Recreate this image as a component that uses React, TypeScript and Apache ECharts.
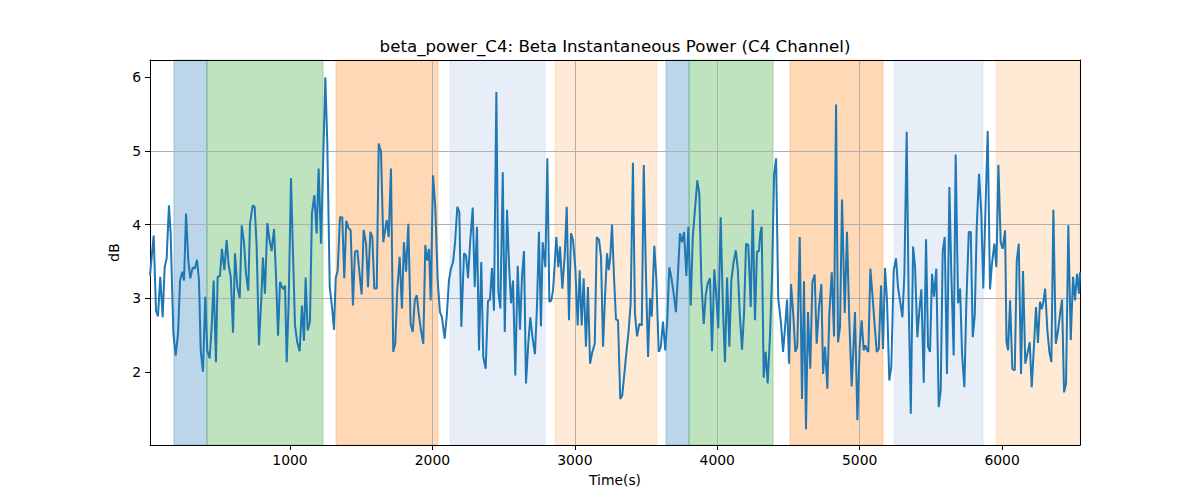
import React, { useEffect, useRef } from "react";
import * as echarts from "echarts";

const TITLE = "beta_power_C4: Beta Instantaneous Power (C4 Channel)";
const X_NAME = "Time(s)";
const Y_NAME = "dB";

const xTicks = [1000, 2000, 3000, 4000, 5000, 6000];
const yTicks = [2, 3, 4, 5, 6];
const xMin = 17;
const xMax = 6547;
const yMin = 1.005;
const yMax = 6.235;

const times = [
  17, 43, 59, 73, 89, 106, 120, 134, 150, 162, 181, 197, 214, 228, 244, 256, 270, 286, 300, 317,
  331, 347, 361, 373, 389, 405, 419, 436, 450, 464, 480, 492, 508, 522, 539, 555, 569, 584, 600, 614,
  630, 647, 661, 677, 691, 707, 719, 738, 752, 766, 782, 798, 810, 824, 841, 855, 871, 888, 902, 916,
  930, 944, 956, 965, 977, 991, 1007, 1021, 1035, 1051, 1068, 1084, 1098, 1110, 1124, 1140, 1154, 1171, 1187, 1201,
  1218, 1248, 1262, 1279, 1295, 1309, 1321, 1335, 1351, 1367, 1381, 1395, 1412, 1426, 1442, 1456, 1473, 1487, 1503, 1517,
  1534, 1548, 1564, 1578, 1592, 1609, 1623, 1639, 1655, 1679, 1693, 1709, 1725, 1739, 1753, 1770, 1786, 1800, 1815, 1831,
  1847, 1862, 1876, 1890, 1904, 1920, 1936, 1950, 1964, 1976, 1988, 2004, 2020, 2037, 2053, 2067, 2086, 2102, 2116, 2130,
  2145, 2159, 2175, 2189, 2203, 2222, 2236, 2250, 2266, 2283, 2297, 2313, 2327, 2343, 2357, 2374, 2390, 2404, 2418, 2432,
  2449, 2463, 2477, 2494, 2508, 2524, 2538, 2552, 2566, 2582, 2599, 2615, 2629, 2643, 2657, 2673, 2687, 2704, 2720, 2734,
  2748, 2762, 2774, 2793, 2807, 2821, 2835, 2847, 2859, 2870, 2884, 2896, 2912, 2929, 2943, 2959, 2973, 2987, 3003, 3020,
  3034, 3048, 3062, 3078, 3092, 3107, 3123, 3140, 3154, 3170, 3184, 3198, 3212, 3226, 3238, 3249, 3261, 3275, 3289, 3303,
  3319, 3333, 3350, 3364, 3378, 3392, 3408, 3422, 3437, 3453, 3470, 3484, 3498, 3514, 3528, 3540, 3558, 3572, 3589, 3603,
  3619, 3635, 3649, 3663, 3677, 3694, 3710, 3724, 3738, 3753, 3767, 3783, 3797, 3814, 3828, 3860, 3874, 3888, 3905, 3919,
  3933, 3949, 3963, 3979, 3993, 4007, 4024, 4040, 4054, 4069, 4085, 4099, 4113, 4130, 4144, 4158, 4174, 4188, 4202, 4218,
  4235, 4249, 4265, 4279, 4293, 4302, 4312, 4326, 4340, 4354, 4371, 4385, 4399, 4413, 4428, 4448, 4462, 4478, 4490, 4504,
  4518, 4534, 4548, 4562, 4579, 4595, 4609, 4623, 4637, 4653, 4668, 4684, 4698, 4715, 4731, 4743, 4757, 4773, 4787, 4804,
  4820, 4834, 4848, 4862, 4876, 4895, 4911, 4927, 4944, 4967, 4984, 5000, 5014, 5028, 5040, 5052, 5061, 5075, 5089, 5106,
  5120, 5134, 5150, 5164, 5178, 5192, 5208, 5222, 5239, 5255, 5269, 5283, 5300, 5314, 5330, 5344, 5359, 5375, 5389, 5405,
  5419, 5433, 5450, 5466, 5480, 5494, 5508, 5522, 5538, 5555, 5569, 5583, 5597, 5613, 5630, 5644, 5660, 5674, 5691, 5705,
  5719, 5735, 5749, 5766, 5780, 5794, 5808, 5822, 5838, 5854, 5868, 5885, 5899, 5915, 5929, 5946, 5960, 5974, 5990, 6004,
  6021, 6031, 6042, 6056, 6072, 6089, 6103, 6117, 6133, 6147, 6163, 6177, 6194, 6208, 6224, 6238, 6252, 6266, 6278, 6290,
  6302, 6318, 6332, 6346, 6360, 6377, 6393, 6407, 6421, 6435, 6449, 6465, 6482, 6498, 6512, 6526, 6540, 6547,
];

const values = [
  3.31, 3.85, 2.83, 2.75, 3.29, 2.74, 3.42, 3.54, 4.26, 3.88, 2.52, 2.22, 2.52, 3.24, 3.36, 3.24, 4.15, 3.51, 3.27, 3.42,
  3.40, 3.52, 3.24, 2.29, 2.0, 3.02, 2.29, 2.18, 2.61, 3.24, 2.13, 3.29, 3.30, 3.67, 3.38, 3.79, 3.45, 3.29, 2.53, 3.61,
  3.15, 3.0, 3.99, 3.76, 3.33, 3.10, 4.01, 4.26, 4.24, 3.70, 2.36, 2.97, 3.55, 3.06, 4.02, 3.81, 3.64, 3.94, 3.29, 2.49,
  3.22, 3.15, 3.12, 3.17, 2.13, 2.97, 4.63, 3.61, 2.63, 2.40, 2.28, 2.90, 2.42, 3.28, 2.56, 2.68, 4.15, 4.40, 3.88, 4.76,
  3.74, 6.0, 5.10, 3.15, 2.88, 2.57, 3.27, 3.38, 4.10, 4.10, 3.27, 4.05, 3.95, 3.92, 2.90, 3.63, 3.65, 3.36, 3.05, 3.93,
  3.74, 3.15, 3.90, 3.83, 3.13, 3.13, 5.10, 4.99, 3.76, 4.06, 3.83, 4.76, 2.27, 2.38, 3.11, 3.56, 2.86, 3.76, 3.36, 4.01,
  2.65, 2.54, 2.97, 3.04, 2.79, 2.56, 2.38, 3.72, 3.51, 3.67, 2.97, 4.67, 4.24, 3.24, 2.81, 2.74, 2.45, 2.79, 3.24, 3.40,
  3.49, 3.76, 4.24, 4.17, 2.61, 3.61, 3.58, 3.27, 3.79, 4.23, 3.15, 3.97, 2.29, 3.49, 2.20, 2.04, 2.96, 2.98, 3.41, 2.83,
  5.80, 3.08, 2.86, 4.71, 2.54, 4.20, 3.46, 2.93, 3.24, 1.95, 3.44, 2.57, 3.29, 3.64, 1.84, 2.38, 2.74, 2.45, 2.24, 2.88,
  3.90, 2.62, 3.76, 3.42, 4.90, 2.95, 2.97, 3.11, 3.47, 3.83, 3.42, 3.70, 3.13, 3.58, 4.24, 2.70, 3.88, 3.79, 3.42, 2.63,
  3.38, 2.63, 3.27, 2.34, 3.15, 2.11, 2.27, 2.38, 3.83, 3.79, 3.56, 2.34, 3.02, 3.61, 3.38, 3.56, 4.00, 3.29, 2.71, 2.70,
  1.63, 1.68, 2.02, 2.30, 2.56, 2.93, 4.84, 2.79, 2.48, 2.65, 2.63, 4.81, 3.42, 2.20, 3.0, 2.75, 3.71, 3.27, 2.27, 2.33,
  2.68, 2.29, 2.70, 3.42, 3.29, 3.06, 2.81, 3.33, 3.88, 3.76, 3.90, 3.30, 3.97, 2.90, 3.83, 4.60, 4.42, 3.24, 2.65, 3.04,
  3.20, 3.27, 2.28, 3.39, 3.04, 2.59, 4.10, 2.86, 2.13, 3.28, 2.34, 3.24, 3.47, 3.65, 3.40, 2.79, 2.30, 2.79, 3.74, 3.72,
  2.88, 4.20, 2.70, 3.63, 3.64, 3.88, 3.97, 1.92, 2.27, 1.84, 2.52, 3.33, 4.67, 4.90, 3.0, 2.65, 2.27, 2.65, 2.98, 2.11,
  3.19, 2.77, 2.27, 2.34, 3.83, 1.63, 3.23, 1.22, 2.81, 2.04, 3.22, 3.32, 2.38, 2.89, 3.19, 1.97, 2.34, 1.77, 2.79, 3.35,
  2.48, 5.63, 2.40, 2.61, 4.34, 2.80, 3.90, 2.70, 1.80, 2.81, 1.34, 2.34, 2.70, 2.29, 2.36, 2.29, 2.27, 3.40, 3.06, 2.61,
  2.27, 2.31, 3.17, 2.31, 3.41, 2.97, 1.88, 2.06, 3.38, 3.54, 3.15, 2.97, 2.74, 3.33, 5.26, 2.97, 1.43, 3.70, 3.42, 2.47,
  2.83, 3.12, 1.85, 3.80, 2.34, 2.27, 3.33, 3.02, 3.40, 1.52, 1.75, 3.63, 3.83, 1.97, 4.51, 3.29, 2.22, 4.95, 2.93, 3.13,
  2.24, 1.79, 2.93, 3.90, 3.90, 2.47, 2.77, 3.97, 4.69, 4.15, 3.13, 4.33, 5.27, 3.12, 3.47, 3.74, 3.42, 4.81, 3.76, 3.67,
  3.92, 2.40, 2.29, 2.97, 2.04, 2.02, 3.51, 3.74, 1.97, 3.37, 2.11, 2.24, 2.40, 1.79, 2.36, 2.88, 2.39, 2.95, 2.85, 2.95,
  3.13, 2.56, 2.27, 2.13, 4.20, 2.38, 2.56, 2.79, 2.98, 1.72, 1.84, 3.99, 2.43, 3.29, 2.97, 3.33, 3.06, 3.35,
];

const bandStarts = [185, 417, 1323, 2124, 2861, 3640, 3802, 4511, 5242, 5958];
const bandEnds = [417, 1232, 2039, 2791, 3577, 3802, 4392, 5164, 5866, 6547];
const bandColors = [
  "rgba(31,119,180,0.3)",
  "rgba(44,160,44,0.3)",
  "rgba(255,127,14,0.3)",
  "rgba(174,199,232,0.3)",
  "rgba(255,187,120,0.3)",
  "rgba(31,119,180,0.3)",
  "rgba(44,160,44,0.3)",
  "rgba(255,127,14,0.3)",
  "rgba(174,199,232,0.3)",
  "rgba(255,187,120,0.3)",
];

const FONT = "DejaVu Sans";

export default function App() {
  const ref = useRef<HTMLDivElement>(null);

  useEffect(() => {
    if (!ref.current) return;
    const chart = echarts.init(ref.current, undefined, { renderer: "svg" });
    const data = times.map((t, i) => [t, values[i]]);
    const bands = bandStarts.map((s, i) => [
      {
        xAxis: s,
        itemStyle: { color: bandColors[i], borderColor: bandColors[i], borderWidth: 1 },
      },
      { xAxis: bandEnds[i] },
    ]);

    const option: any = {
      animation: false,
      backgroundColor: "#ffffff",
      textStyle: { fontFamily: FONT },
      grid: { left: 150, right: 120, top: 60, bottom: 55 },
      graphic: [
        {
          type: "text",
          x: 615,
          y: 46,
          z: 10,
          style: {
            text: TITLE,
            fontSize: 16.67,
            fontFamily: FONT,
            fill: "#000",
            textAlign: "center",
            textVerticalAlign: "middle",
          },
        },
      ],
      xAxis: [
        {
          type: "value",
          min: xMin,
          max: xMax,
          position: "bottom",
          z: 2,
          name: X_NAME,
          nameLocation: "middle",
          nameGap: 28,
          nameTextStyle: { fontSize: 13.9, color: "#000", fontFamily: FONT },
          axisLine: { show: true, onZero: false, lineStyle: { color: "#000", width: 1 } },
          axisTick: { show: true, inside: false, length: 5, customValues: xTicks, lineStyle: { color: "#000", width: 1 } },
          axisLabel: {
            customValues: xTicks,
            fontSize: 13.9,
            color: "#000",
            margin: 8,
            fontFamily: FONT,
            formatter: (v: number) => String(v),
          },
          splitLine: {
            show: true,
            showMinLine: false,
            showMaxLine: false,
            lineStyle: { color: "#b0b0b0", width: 1 },
          },
        },
        {
          type: "value",
          min: xMin,
          max: xMax,
          position: "top",
          z: 2,
          axisLine: { show: true, onZero: false, lineStyle: { color: "#000", width: 1 } },
          axisTick: { show: false },
          axisLabel: { show: false },
          splitLine: { show: false },
        },
      ],
      yAxis: [
        {
          type: "value",
          min: yMin,
          max: yMax,
          position: "left",
          z: 2,
          name: Y_NAME,
          nameLocation: "middle",
          nameRotate: 90,
          nameGap: 26,
          nameTextStyle: { fontSize: 13.9, color: "#000", fontFamily: FONT },
          axisLine: { show: true, onZero: false, lineStyle: { color: "#000", width: 1 } },
          axisTick: { show: true, inside: false, length: 5, customValues: yTicks, lineStyle: { color: "#000", width: 1 } },
          axisLabel: {
            customValues: yTicks,
            fontSize: 13.9,
            color: "#000",
            margin: 9,
            fontFamily: FONT,
            formatter: (v: number) => String(v),
          },
          splitLine: {
            show: true,
            showMinLine: false,
            showMaxLine: false,
            lineStyle: { color: "#b0b0b0", width: 1 },
          },
        },
        {
          type: "value",
          min: yMin,
          max: yMax,
          position: "right",
          z: 2,
          axisLine: { show: true, onZero: false, lineStyle: { color: "#000", width: 1 } },
          axisTick: { show: false },
          axisLabel: { show: false },
          splitLine: { show: false },
        },
      ],
      series: [
        {
          type: "line",
          xAxisIndex: 0,
          yAxisIndex: 0,
          data,
          showSymbol: false,
          symbol: "none",
          z: 3,
          clip: true,
          lineStyle: { color: "#1f77b4", width: 2 },
          markArea: { silent: true, z: 1, data: bands },
        },
      ],
    };
    chart.setOption(option);
    return () => chart.dispose();
  }, []);

  return (
    <div
      ref={ref}
      style={{ position: "fixed", left: 0, top: 0, width: 1200, height: 500, background: "#fff" }}
    />
  );
}
